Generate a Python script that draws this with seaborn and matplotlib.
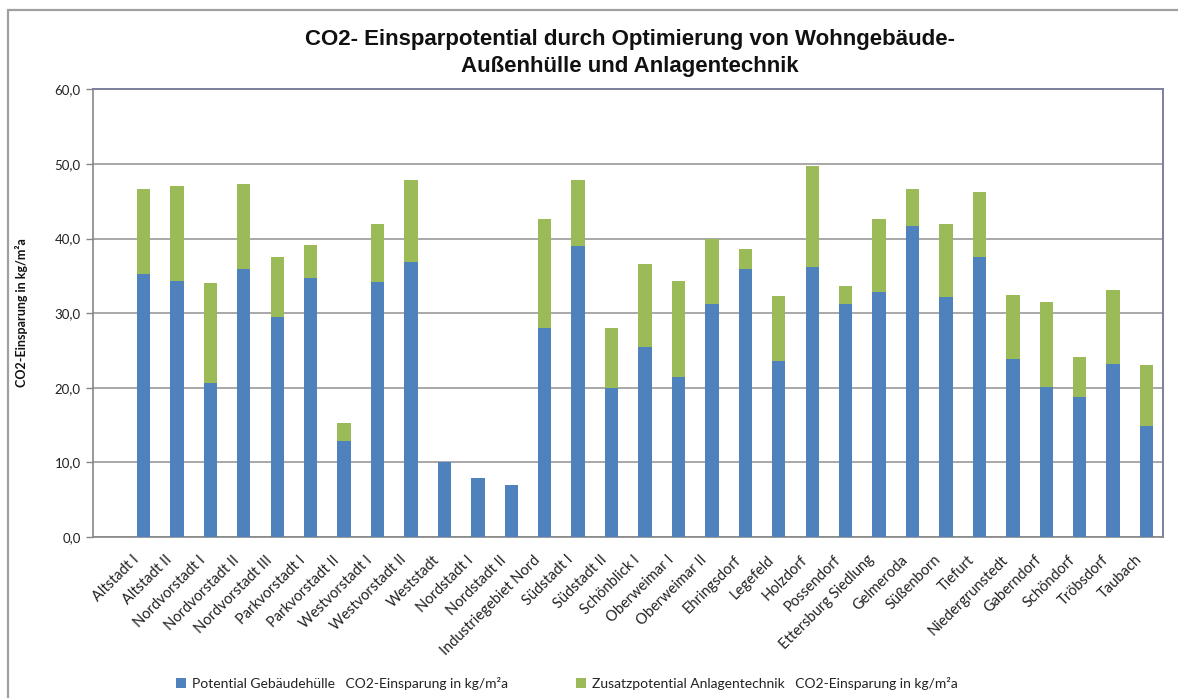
import matplotlib
matplotlib.use("Agg")
import matplotlib.pyplot as plt
from matplotlib.patches import Patch
from matplotlib.lines import Line2D
from matplotlib.ticker import FuncFormatter, MultipleLocator
from matplotlib.transforms import ScaledTranslation
import seaborn as sns

# Stadtteile / Ortsteile
districts = [
    "Altstadt I", "Altstadt II", "Nordvorstadt I", "Nordvorstadt II",
    "Nordvorstadt III", "Parkvorstadt I", "Parkvorstadt II", "Westvorstadt I",
    "Westvorstadt II", "Weststadt", "Nordstadt I", "Nordstadt II",
    "Industriegebiet Nord", "Südstadt I", "Südstadt II", "Schönblick I",
    "Oberweimar I", "Oberweimar II", "Ehringsdorf", "Legefeld", "Holzdorf",
    "Possendorf", "Ettersburg Siedlung", "Gelmeroda", "Süßenborn", "Tiefurt",
    "Niedergrunstedt", "Gaberndorf", "Schöndorf", "Tröbsdorf", "Taubach",
]

# Potential Gebäudehülle (kg/m²a)
huelle = [
    35.2, 34.3, 20.6, 35.9, 29.5, 34.7, 12.9, 34.2, 36.8, 10.0, 7.9, 7.0,
    28.0, 39.0, 20.0, 25.4, 21.4, 31.2, 35.9, 23.6, 36.2, 31.2,
    32.8, 41.7, 32.1, 37.5, 23.8, 20.1, 18.8, 23.2, 14.9,
]

# Zusatzpotential Anlagentechnik (kg/m²a)
anlagen = [
    11.5, 12.7, 13.4, 11.4, 8.0, 4.5, 2.4, 7.7, 11.0, 0.0, 0.0, 0.0,
    14.6, 8.9, 8.0, 11.2, 12.9, 8.7, 2.7, 8.7, 13.5, 2.4,
    9.8, 4.9, 9.8, 8.7, 8.6, 11.4, 5.3, 9.9, 8.1,
]

legend_labels = [
    "Potential Gebäudehülle   CO2-Einsparung in kg/m²a",
    "Zusatzpotential Anlagentechnik   CO2-Einsparung in kg/m²a",
]
title_text = "CO2- Einsparpotential durch Optimierung von Wohngebäude-\nAußenhülle und Anlagentechnik"
ylabel_text = "CO2-Einsparung in kg/m²a"

BLUE = "#4f81bd"
GREEN = "#9bbb59"

sns.set_theme(style="white")
plt.rcParams["font.family"] = ["Lato", "DejaVu Sans"]

W, H = 1178, 698
fig = plt.figure(figsize=(W / 100, H / 100), dpi=100)
fig.patch.set_facecolor("white")

left, right, top, bottom = 93.3, 1163.3, 89.3, 537.0
ax = fig.add_axes([left / W, 1 - bottom / H, (right - left) / W, (bottom - top) / H])

totals = [h + a for h, a in zip(huelle, anlagen)]

# stacked columns: full height in green, building-envelope share in blue on top
sns.barplot(x=districts, y=totals, color=GREEN, saturation=1, width=0.4,
            linewidth=0, ax=ax, zorder=3)
sns.barplot(x=districts, y=huelle, color=BLUE, saturation=1, width=0.4,
            linewidth=0, ax=ax, zorder=4)

ax.set_xlim(-1.5, len(districts) - 0.5)
ax.set_ylim(0, 60)
ax.yaxis.set_major_locator(MultipleLocator(10))
ax.yaxis.set_major_formatter(FuncFormatter(lambda v, p: f"{v:.1f}".replace(".", ",")))

ax.grid(axis="y", color="#999999", linewidth=1.2, zorder=0)
ax.set_axisbelow(True)

for side in ("left", "bottom"):
    ax.spines[side].set_color("#868686")
    ax.spines[side].set_linewidth(1.2)
for side in ("top", "right"):
    ax.spines[side].set_color("#7c809c")
    ax.spines[side].set_linewidth(1.4)
    ax.spines[side].set_visible(True)

ax.tick_params(axis="y", which="major", left=True, length=5, width=1,
               color="#868686", labelsize=9.5, pad=4, labelcolor="#222222")
ax.tick_params(axis="x", which="major", bottom=False, length=0, labelsize=10.5,
               pad=2, labelcolor="#222222")
ax.set_xlabel("")
ax.set_ylabel("")
fig.text(22 / W, 1 - 313 / H, ylabel_text, rotation=90, ha="center", va="center",
         fontsize=9, fontweight="bold", color="#111111")

offset = ScaledTranslation(-7 / 100, -18 / 100, fig.dpi_scale_trans)
for lbl in ax.get_xticklabels():
    lbl.set_rotation(45)
    lbl.set_ha("right")
    lbl.set_va("center")
    lbl.set_rotation_mode("anchor")
    lbl.set_transform(lbl.get_transform() + offset)

fig.text(630 / W, 1 - 53 / H, title_text, ha="center", va="center",
         fontsize=16, fontweight="bold", family="Liberation Sans",
         linespacing=1.35, color="#111111")

# legend entries placed side by side below the axis labels
for x_pos, color, label in ((176, BLUE, legend_labels[0]), (576, GREEN, legend_labels[1])):
    fig.legend([Patch(facecolor=color, edgecolor="none")], [label], loc="center left",
               bbox_to_anchor=(x_pos / W, 1 - 683 / H), frameon=False, fontsize=10,
               handlelength=0.75, handleheight=0.75, handletextpad=0.4,
               borderpad=0, borderaxespad=0, labelcolor="#222222")

# outer chart frame
fig.add_artist(Line2D([8 / W, 8 / W], [0, 1 - 10 / H], transform=fig.transFigure,
                      color="#a0a0a0", linewidth=1.6))
fig.add_artist(Line2D([8 / W, 1], [1 - 10 / H, 1 - 10 / H], transform=fig.transFigure,
                      color="#a0a0a0", linewidth=1.6))

fig.savefig("out.png", dpi=100)
